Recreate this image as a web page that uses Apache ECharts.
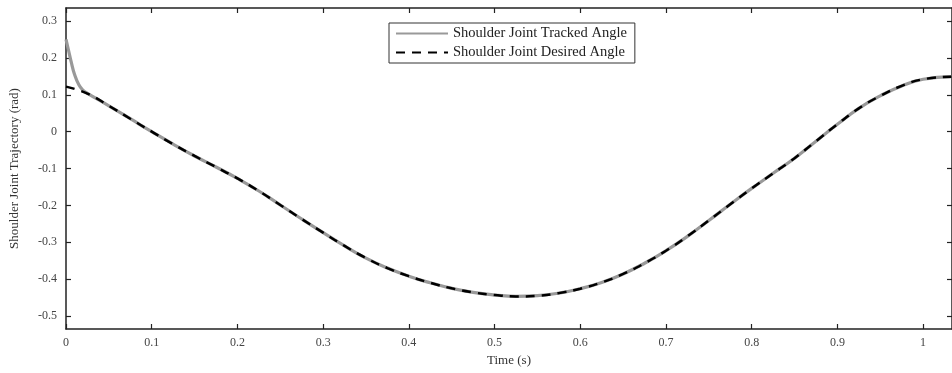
<!DOCTYPE html>
<html>
<head>
<meta charset="utf-8">
<script src="https://cdn.jsdelivr.net/npm/echarts@6/dist/echarts.min.js"></script>
<style>
html,body{margin:0;padding:0;background:#fff;}
#c{width:952px;height:373px;}
</style>
</head>
<body>
<div id="c"></div>
<script>
// ---- data ----
var timeDesired = [0, 0.025, 0.05, 0.075, 0.1, 0.125, 0.15, 0.175, 0.2, 0.225, 0.25, 0.275, 0.3, 0.325, 0.35, 0.375, 0.4, 0.425, 0.45, 0.475, 0.5, 0.525, 0.55, 0.575, 0.6, 0.625, 0.65, 0.675, 0.7, 0.725, 0.75, 0.775, 0.8, 0.825, 0.85, 0.875, 0.9, 0.925, 0.95, 0.975, 1.0, 1.033];
var desiredAngle = [0.122, 0.103, 0.07, 0.035, 0.0, -0.034, -0.066, -0.096, -0.127, -0.161, -0.199, -0.237, -0.274, -0.31, -0.343, -0.37, -0.392, -0.41, -0.425, -0.436, -0.443, -0.447, -0.445, -0.438, -0.426, -0.409, -0.386, -0.357, -0.323, -0.284, -0.241, -0.197, -0.154, -0.113, -0.072, -0.026, 0.02, 0.063, 0.097, 0.124, 0.142, 0.149];
var timeTracked = [0, 0.003, 0.006, 0.01, 0.015, 0.02, 0.025, 0.05, 0.075, 0.1, 0.125, 0.15, 0.175, 0.2, 0.225, 0.25, 0.275, 0.3, 0.325, 0.35, 0.375, 0.4, 0.425, 0.45, 0.475, 0.5, 0.525, 0.55, 0.575, 0.6, 0.625, 0.65, 0.675, 0.7, 0.725, 0.75, 0.775, 0.8, 0.825, 0.85, 0.875, 0.9, 0.925, 0.95, 0.975, 1.0, 1.033];
var trackedAngle = [0.25, 0.22, 0.19, 0.155, 0.127, 0.112, 0.104, 0.07, 0.035, 0.0, -0.034, -0.066, -0.096, -0.127, -0.161, -0.199, -0.237, -0.274, -0.31, -0.343, -0.37, -0.392, -0.41, -0.425, -0.436, -0.443, -0.447, -0.445, -0.438, -0.426, -0.409, -0.386, -0.357, -0.323, -0.284, -0.241, -0.197, -0.154, -0.113, -0.072, -0.026, 0.02, 0.063, 0.097, 0.124, 0.142, 0.149];
var xTicks = [0, 0.1, 0.2, 0.3, 0.4, 0.5, 0.6, 0.7, 0.8, 0.9, 1];
var yTicks = [-0.5, -0.4, -0.3, -0.2, -0.1, 0, 0.1, 0.2, 0.3];
var seriesNames = ['Shoulder Joint Tracked Angle', 'Shoulder Joint Desired Angle'];

function pairs(xs, ys){ return xs.map(function(x,i){ return [x, ys[i]]; }); }
function fmt(v){ return String(Math.round(v*10)/10); }

var FONT = 'Liberation Serif';
var X_MIN = 0, X_MAX = 1.0337, Y_MIN = -0.5353, Y_MAX = 0.3353;

var chart = echarts.init(document.getElementById('c'), null, {renderer:'canvas'});
var axisLine = {show:true, onZero:false, lineStyle:{color:'#222', width:1.5}};
var tick = {show:true, inside:true, length:5, lineStyle:{color:'#222', width:1.2}};

chart.setOption({
  animation:false,
  backgroundColor:'#fff',
  grid:{left:64, top:8, width:889, height:321, containLabel:false},
  legend:{
    orient:'vertical', left:389, top:23,
    padding:[3,8,3,6], itemGap:4, itemWidth:52, itemHeight:14,
    borderColor:'#333', borderWidth:1, backgroundColor:'#fff',
    itemStyle:{opacity:0},
    textStyle:{fontFamily:FONT, fontSize:14.5, color:'#222'},
    data:seriesNames
  },
  xAxis:[{
    type:'value', min:X_MIN, max:X_MAX, position:'bottom',
    name:'Time (s)', nameLocation:'middle', nameGap:25,
    nameTextStyle:{fontFamily:FONT, fontSize:13, color:'#333'},
    axisLine:axisLine, axisTick:Object.assign({customValues:xTicks}, tick),
    axisLabel:{customValues:xTicks, formatter:fmt, fontFamily:FONT, fontSize:12, color:'#444', margin:8},
    splitLine:{show:false}
  },{
    type:'value', min:X_MIN, max:X_MAX, position:'top',
    axisLine:axisLine, axisTick:Object.assign({customValues:xTicks}, tick),
    axisLabel:{show:false}, splitLine:{show:false}
  }],
  yAxis:[{
    type:'value', min:Y_MIN, max:Y_MAX, position:'left',
    name:'Shoulder Joint Trajectory (rad)', nameLocation:'middle', nameGap:45,
    nameTextStyle:{fontFamily:FONT, fontSize:13, color:'#333'},
    axisLine:axisLine, axisTick:Object.assign({customValues:yTicks}, tick),
    axisLabel:{customValues:yTicks, formatter:fmt, fontFamily:FONT, fontSize:12, color:'#444', margin:9},
    splitLine:{show:false}
  },{
    type:'value', min:Y_MIN, max:Y_MAX, position:'right',
    axisLine:axisLine, axisTick:Object.assign({customValues:yTicks}, tick),
    axisLabel:{show:false}, splitLine:{show:false}
  }],
  series:[{
    name:seriesNames[0], type:'line', xAxisIndex:0, yAxisIndex:0,
    data:pairs(timeTracked, trackedAngle),
    smooth:0.5, symbol:'none',
    lineStyle:{color:'#999', width:3.2}, itemStyle:{color:'#999'}
  },{
    name:seriesNames[1], type:'line', xAxisIndex:0, yAxisIndex:0,
    data:pairs(timeDesired, desiredAngle),
    smooth:0.5, symbol:'none',
    lineStyle:{color:'#000', width:2.5, type:[9,7]}, itemStyle:{color:'#000'}
  }]
});
</script>
</body>
</html>
